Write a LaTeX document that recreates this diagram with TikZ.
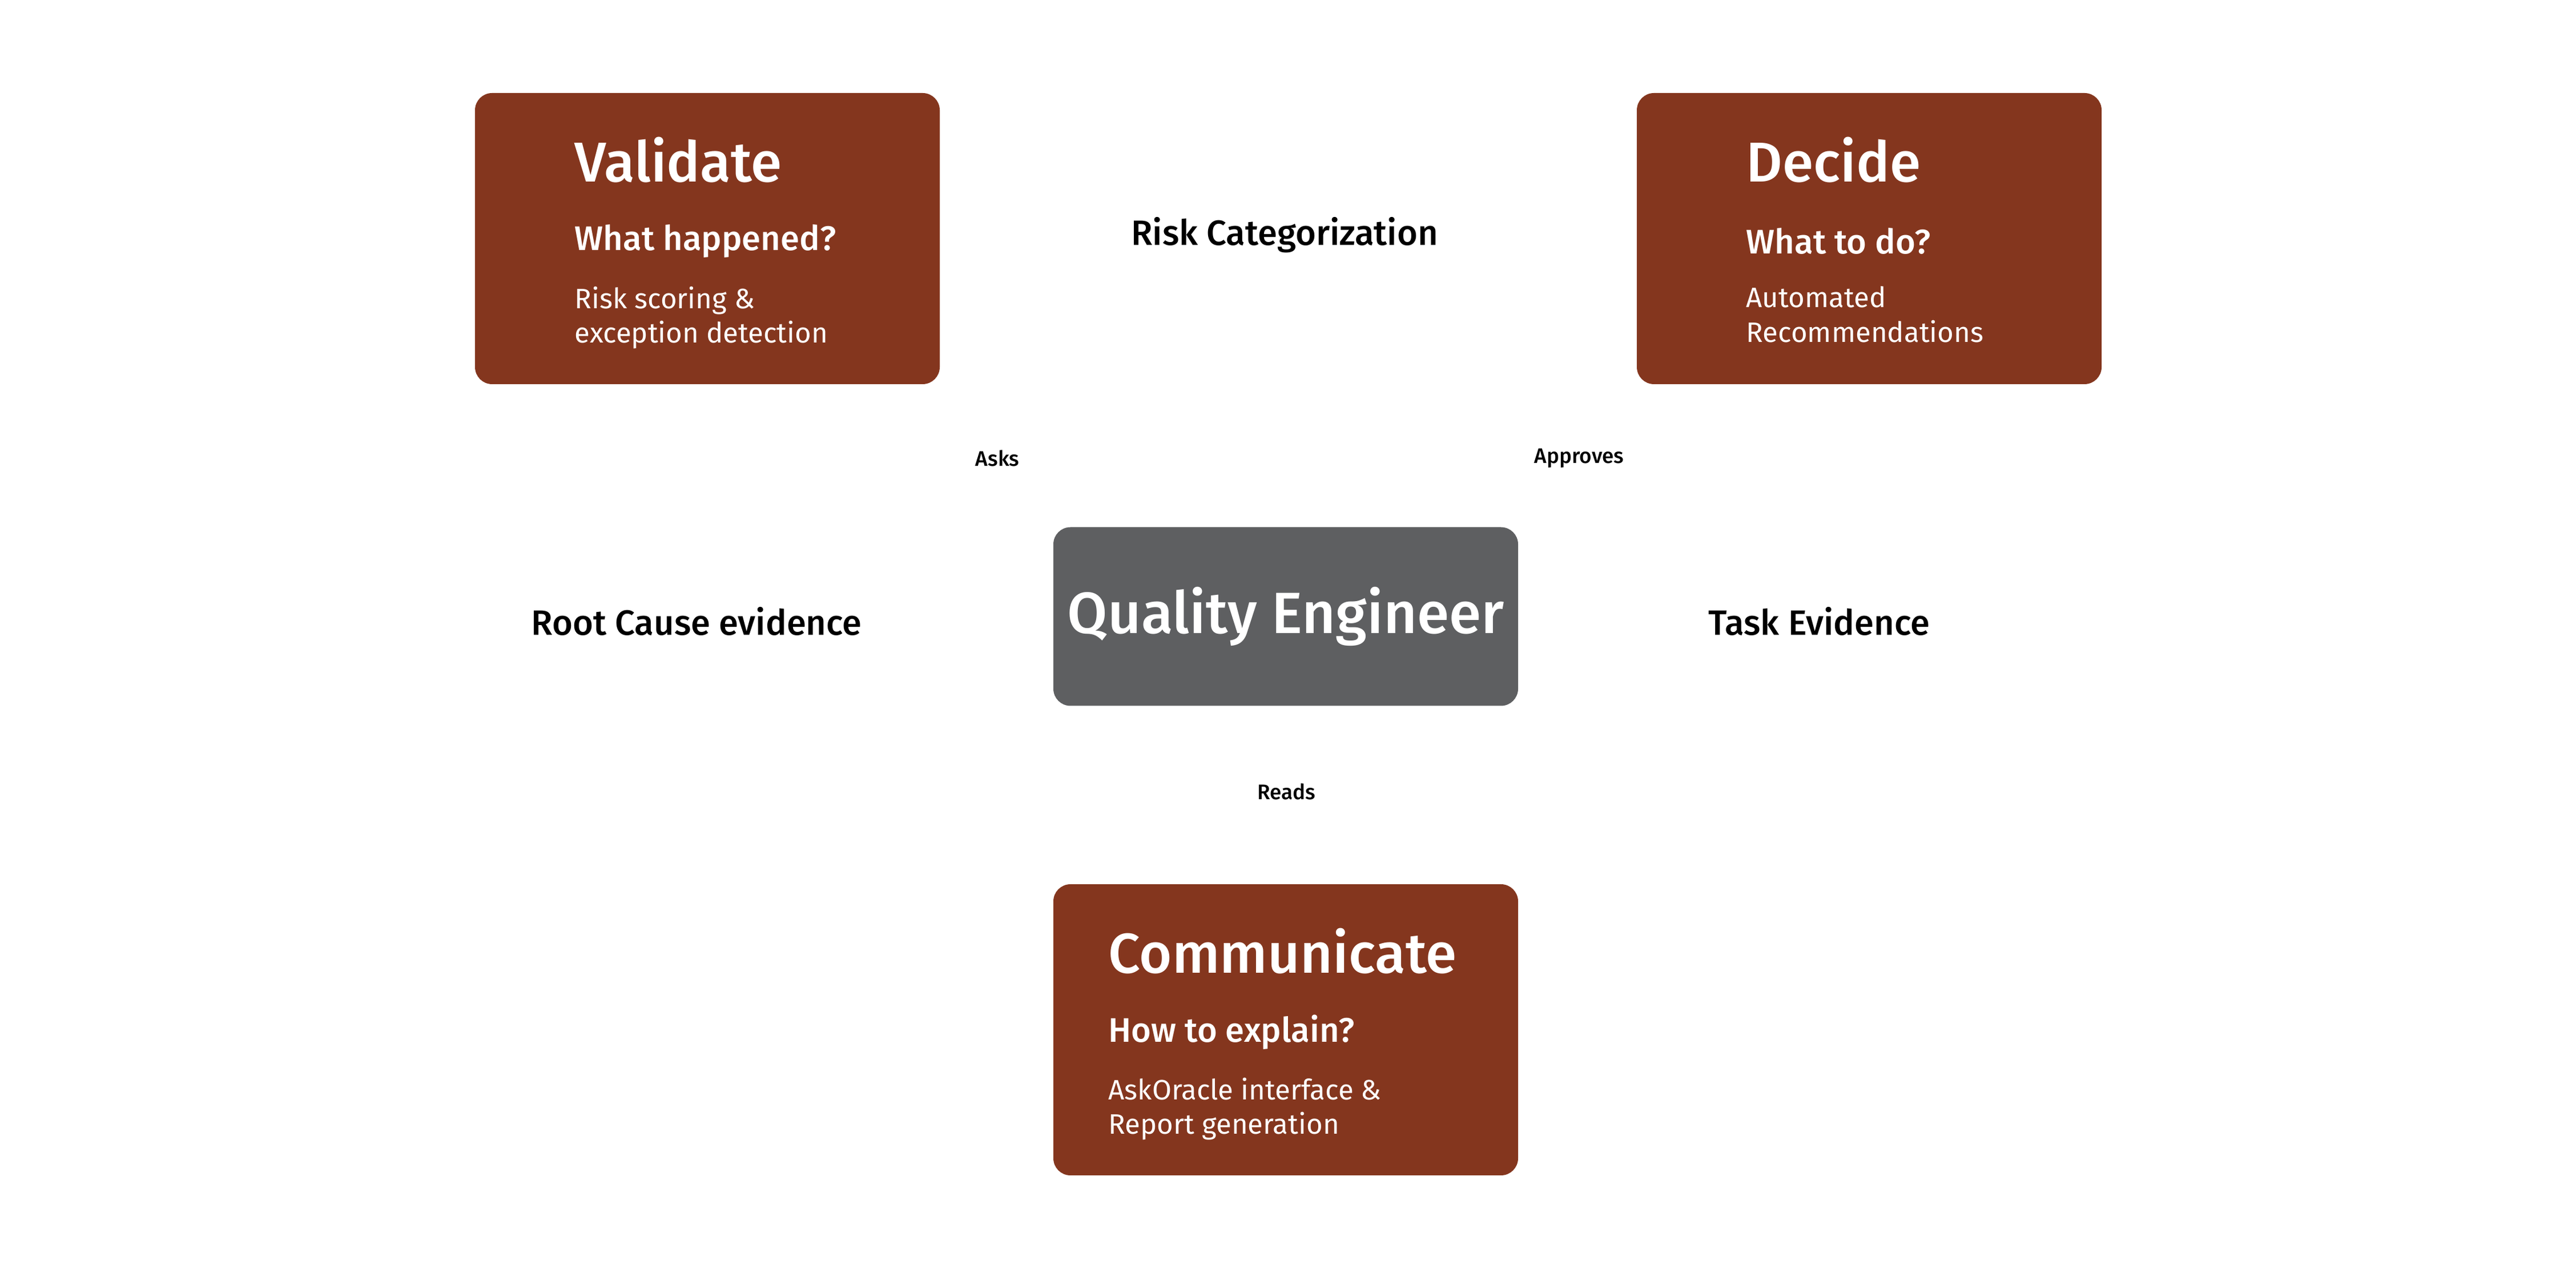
\documentclass[tikz,border=0pt]{standalone}
\usepackage{fontspec}
\setmainfont{Fira Sans}[BoldFont={Fira Sans Medium}]
\usetikzlibrary{positioning}
\definecolor{brique}{HTML}{84361E}
\definecolor{ardoise}{HTML}{5E5F61}
\tikzset{
  bloc/.style={rectangle,rounded corners=0.3cm,fill=brique,minimum width=8.14cm,minimum height=5.1cm,inner sep=0},
  titre/.style={anchor=west,text=white,font=\fontsize{28}{32}\selectfont\bfseries},
  question/.style={anchor=west,text=white,font=\fontsize{17}{20}\selectfont\bfseries},
  detail/.style={anchor=north west,text=white,align=left,font=\fontsize{14}{17.2}\selectfont},
  etiquette/.style={font=\fontsize{17.5}{20}\selectfont\bfseries},
  lien/.style={font=\fontsize{10.5}{12}\selectfont\bfseries}
}
\begin{document}
\begin{tikzpicture}
  \useasboundingbox (0,0) rectangle (45.12,22.23);
  % les blocs
  \node (VAL) at (12.39,18.05) [bloc] {};
  \node (DEC) at (32.74,18.05) [bloc] {};
  \node (COM) at (22.52,4.19) [bloc] {};
  \node (QE) at (22.52,11.43) [bloc,fill=ardoise,minimum height=3.13cm] {};
  \node (QET) at (QE.center) [text=white,font=\fontsize{29}{32}\selectfont\bfseries] {Quality Engineer};
  % textes des blocs
  \node (VALT) at ([xshift=1.63cm,yshift=-1.18cm]VAL.north west) [titre] {Validate};
  \node (VALQ) at ([xshift=1.63cm,yshift=-2.6cm]VAL.north west) [question] {What happened?};
  \node (VALD) at ([xshift=1.63cm,yshift=-3.27cm]VAL.north west) [detail] {Risk scoring \&\\exception detection};
  \node (DECT) at ([xshift=1.8cm,yshift=-1.18cm]DEC.north west) [titre] {Decide};
  \node (DECQ) at ([xshift=1.8cm,yshift=-2.6cm]DEC.north west) [question] {What to do?};
  \node (DECD) at ([xshift=1.8cm,yshift=-3.27cm]DEC.north west) [detail] {Automated\\Recommendations};
  \node (COMT) at ([xshift=0.85cm,yshift=-1.18cm]COM.north west) [titre] {Communicate};
  \node (COMQ) at ([xshift=0.85cm,yshift=-2.6cm]COM.north west) [question] {How to explain?};
  \node (COMD) at ([xshift=0.85cm,yshift=-3.27cm]COM.north west) [detail] {AskOracle interface \&\\Report generation};
  % étiquettes libres
  \node (RISK) at (22.5,18.11) [etiquette] {Risk Categorization};
  \node (ROOT) at (12.2,11.35) [etiquette] {Root Cause evidence};
  \node (TASK) at (31.86,11.35) [etiquette] {Task Evidence};
  \node (ASKS) at (17.47,14.2) [lien] {Asks};
  \node (APPR) at (27.66,14.2) [lien] {Approves};
  \node (READ) at (22.53,8.36) [lien] {Reads};
\end{tikzpicture}
\end{document}
